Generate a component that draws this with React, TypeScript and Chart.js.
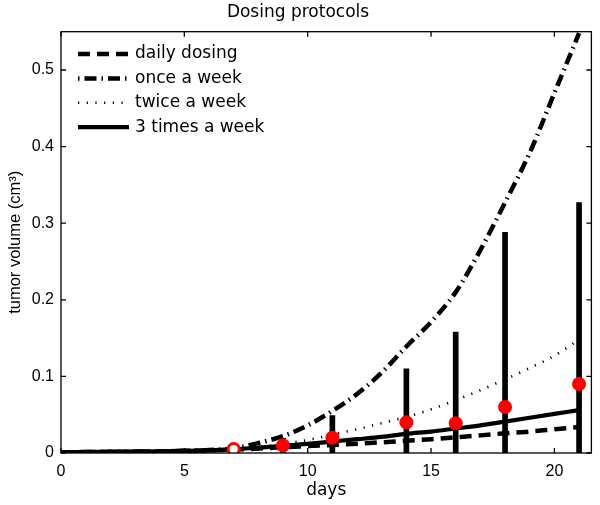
import React, { useEffect, useRef } from 'react';
import { Chart, registerables } from 'chart.js';

Chart.register(...registerables);

const days = [0, 1, 2, 3, 4, 5, 6, 7, 8, 9, 10, 11, 12, 13, 14, 15, 16, 17, 18, 19, 20, 21];
const dailyDosing = [0.001, 0.0012, 0.0015, 0.0018, 0.0022, 0.0027, 0.0034, 0.0045, 0.0058, 0.0075, 0.009, 0.0105, 0.012, 0.014, 0.016, 0.018, 0.0205, 0.023, 0.0258, 0.028, 0.031, 0.034];
const onceAWeek = [0.001, 0.0012, 0.0015, 0.0018, 0.0022, 0.0028, 0.0038, 0.006, 0.013, 0.022, 0.036, 0.055, 0.077, 0.105, 0.139, 0.171, 0.21, 0.265, 0.327, 0.392, 0.47, 0.548];
const twiceAWeek = [0.001, 0.0012, 0.0015, 0.0018, 0.0022, 0.0027, 0.0035, 0.005, 0.008, 0.012, 0.017, 0.024, 0.031, 0.039, 0.047, 0.057, 0.069, 0.082, 0.096, 0.111, 0.127, 0.148];
const threeTimesAWeek = [0.001, 0.0012, 0.0015, 0.0018, 0.0022, 0.0027, 0.0034, 0.0048, 0.007, 0.0092, 0.012, 0.015, 0.018, 0.021, 0.025, 0.028, 0.032, 0.036, 0.041, 0.046, 0.051, 0.056];

const obsDays = [7, 9, 11, 14, 16, 18, 21];
const obsMean = [0.005, 0.010, 0.020, 0.040, 0.039, 0.060, 0.090];
const obsUpper = [0.005, 0.019, 0.049, 0.110, 0.158, 0.288, 0.327];

const xTicks = [0, 5, 10, 15, 20];
const yTicks = [0, 0.1, 0.2, 0.3, 0.4, 0.5];

const SANS = "Arial, 'Liberation Sans', Helvetica, sans-serif";
const WIDE = "'DejaVu Sans', Arial, sans-serif";

const boxPlugin = {
  id: 'boxPlugin',
  afterDatasetsDraw(chart: any) {
    const { ctx, chartArea: a, scales } = chart;
    const tl = 5;
    ctx.save();
    ctx.strokeStyle = '#000';
    ctx.lineWidth = 1.3;
    ctx.setLineDash([]);
    ctx.strokeRect(a.left, a.top, a.right - a.left, a.bottom - a.top);
    ctx.beginPath();
    xTicks.forEach((v) => {
      const px = scales.x.getPixelForValue(v);
      ctx.moveTo(px, a.bottom);
      ctx.lineTo(px, a.bottom - tl);
      ctx.moveTo(px, a.top);
      ctx.lineTo(px, a.top + tl);
    });
    yTicks.forEach((v) => {
      const py = scales.y.getPixelForValue(v);
      ctx.moveTo(a.left, py);
      ctx.lineTo(a.left + tl, py);
      ctx.moveTo(a.right, py);
      ctx.lineTo(a.right - tl, py);
    });
    ctx.stroke();
    ctx.restore();
  },
};

const lineLegendPlugin = {
  id: 'lineLegendPlugin',
  afterDraw(chart: any) {
    const { ctx, chartArea: a } = chart;
    const x0 = a.left + 17;
    const y0 = a.top + 22.3;
    const rowH = 24.4;
    const items = chart.data.datasets.filter((d: any) => d.showInLegend);
    ctx.save();
    items.forEach((ds: any, i: number) => {
      const y = y0 + i * rowH;
      ctx.strokeStyle = '#000';
      ctx.lineWidth = ds.borderWidth;
      ctx.lineCap = 'butt';
      ctx.setLineDash(ds.borderDash || []);
      ctx.lineDashOffset = ds.legendDashOffset || 0;
      ctx.beginPath();
      ctx.moveTo(x0, y);
      ctx.lineTo(x0 + 51, y);
      ctx.stroke();
      ctx.setLineDash([]);
      ctx.lineDashOffset = 0;
      ctx.fillStyle = '#000';
      ctx.font = `17px ${WIDE}`;
      ctx.textBaseline = 'middle';
      ctx.textAlign = 'left';
      ctx.fillText(ds.label, x0 + 57, y);
    });
    ctx.restore();
  },
};

export default function App() {
  const ref = useRef<HTMLCanvasElement | null>(null);

  useEffect(() => {
    if (!ref.current) return;
    const mkLine = (label: string, values: number[], width: number, dash: number[], order: number, legendDashOffset = 0) => ({
      type: 'line' as const,
      label,
      data: days.map((d, i) => ({ x: d, y: values[i] })),
      borderColor: '#000',
      backgroundColor: '#000',
      borderWidth: width,
      borderDash: dash,
      pointRadius: 0,
      fill: false,
      cubicInterpolationMode: 'monotone' as const,
      showInLegend: true,
      legendDashOffset,
      order,
    });

    const chart = new Chart(ref.current, {
      type: 'line',
      data: {
        datasets: [
          mkLine('daily dosing', dailyDosing, 4.5, [12, 7], 5),
          mkLine('once a week', onceAWeek, 4.5, [12, 5, 1.5, 5], 4, 17),
          mkLine('twice a week', twiceAWeek, 2.6, [1.2, 7.5], 3),
          mkLine('3 times a week', threeTimesAWeek, 4.2, [], 2),
          {
            type: 'bar' as const,
            label: 'error',
            data: obsDays.map((d, i) => ({ x: d, y: [0, obsUpper[i]] })) as any,
            backgroundColor: '#000',
            borderWidth: 0,
            barThickness: 5,
            order: 1,
          },
          {
            type: 'line' as const,
            label: 'observed',
            data: obsDays.map((d, i) => ({ x: d, y: obsMean[i] })),
            showLine: false,
            pointRadius: obsDays.map((_, i) => (i === 0 ? 5.6 : 7)),
            pointBorderWidth: obsDays.map((_, i) => (i === 0 ? 3 : 0)),
            pointBackgroundColor: obsDays.map((_, i) => (i === 0 ? '#fff' : '#ff0000')),
            pointBorderColor: '#ff0000',
            order: 0,
          } as any,
        ],
      },
      options: {
        animation: false,
        responsive: false,
        devicePixelRatio: 1,
        layout: { padding: { top: 0, left: 0, right: 4, bottom: 0 } },
        plugins: {
          legend: { display: false },
          tooltip: { enabled: false },
          title: {
            display: true,
            text: 'Dosing protocols',
            color: '#000',
            font: { family: WIDE, size: 17, weight: 'normal' },
            padding: { top: 2.6, bottom: 8.7 },
          },
        },
        scales: {
          x: {
            type: 'linear',
            min: 0,
            max: 21.5,
            offset: false,
            afterBuildTicks: (s: any) => {
              s.ticks = xTicks.map((v) => ({ value: v }));
            },
            afterFit: (s: any) => {
              s.height = 52;
            },
            grid: { display: false, drawTicks: false, offset: false },
            border: { display: false },
            ticks: {
              color: '#000',
              padding: 9,
              maxRotation: 0,
              autoSkip: false,
              font: { family: SANS, size: 16 },
              callback: (v: any) => String(v),
            },
            title: {
              display: true,
              text: 'days',
              color: '#000',
              font: { family: WIDE, size: 17 },
              padding: { top: 0, bottom: 4 },
            },
          },
          y: {
            type: 'linear',
            min: 0,
            max: 0.55,
            afterBuildTicks: (s: any) => {
              s.ticks = yTicks.map((v) => ({ value: v }));
            },
            afterFit: (s: any) => {
              s.width = 61;
            },
            grid: { display: false, drawTicks: false },
            border: { display: false },
            ticks: {
              color: '#000',
              padding: 7,
              autoSkip: false,
              font: { family: SANS, size: 16 },
              callback: (v: any) => String(Math.round(v * 10) / 10),
            },
            title: {
              display: true,
              text: 'tumor volume (cm³)',
              color: '#000',
              font: { family: SANS, size: 16.5 },
              padding: { top: 5.5, bottom: 0 },
            },
          },
        },
      } as any,
      plugins: [boxPlugin, lineLegendPlugin],
    });
    return () => chart.destroy();
  }, []);

  return (
    <div style={{ position: 'fixed', left: 0, top: 0, width: 600, height: 505, background: '#fff' }}>
      <canvas ref={ref} width={600} height={505} style={{ display: 'block', width: 600, height: 505 }} />
    </div>
  );
}
